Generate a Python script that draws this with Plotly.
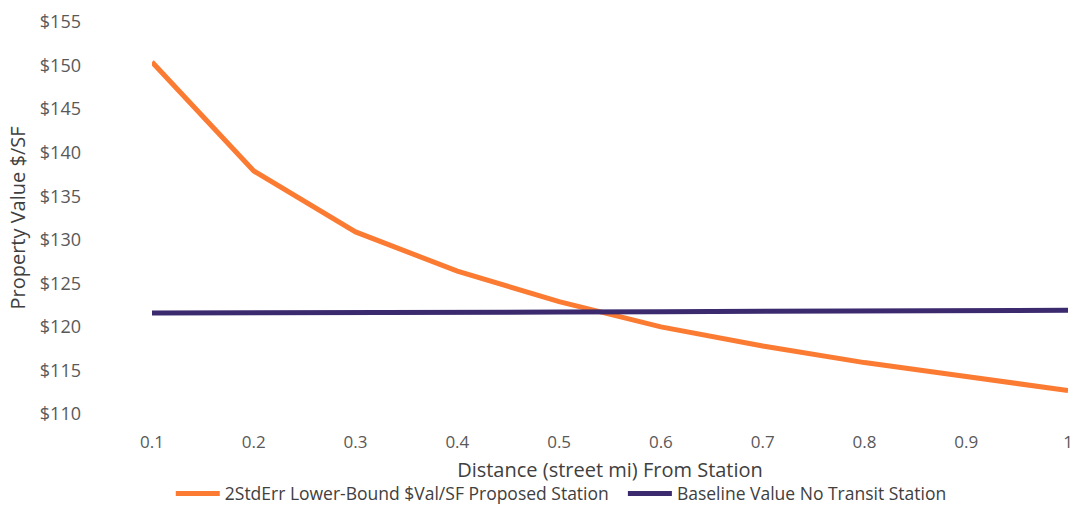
import plotly.graph_objects as go

distance = [0.1, 0.2, 0.3, 0.4, 0.5, 0.6, 0.7, 0.8, 0.9, 1.0]
tick_labels = ["0.1", "0.2", "0.3", "0.4", "0.5", "0.6", "0.7", "0.8", "0.9", "1"]
lower_bound = [150.4, 137.9, 130.9, 126.4, 122.9, 120.0, 117.8, 115.9, 114.3, 112.7]
baseline = [121.6, 121.6, 121.6, 121.65, 121.7, 121.75, 121.8, 121.85, 121.9, 121.9]
y_ticks = [110, 115, 120, 125, 130, 135, 140, 145, 150, 155]
y_tick_labels = ["$110", "$115", "$120", "$125", "$130", "$135", "$140", "$145", "$150", "$155"]
series_names = ["2StdErr Lower-Bound $Val/SF Proposed Station", "Baseline Value No Transit Station"]

fig = go.Figure()
fig.add_trace(go.Scatter(
    x=distance, y=lower_bound, mode="lines",
    name=series_names[0] + "\u00a0\u00a0",
    line=dict(color="#FB7B33", width=5),
))
fig.add_trace(go.Scatter(
    x=distance, y=baseline, mode="lines",
    name=series_names[1],
    line=dict(color="#3C2A6E", width=5),
))

font_family = "'Open Sans', sans-serif"
fig.update_layout(
    width=1073, height=506,
    margin=dict(l=152, r=5, t=22, b=92, autoexpand=False),
    paper_bgcolor="white", plot_bgcolor="white",
    font=dict(family=font_family, color="#595959", size=17),
    showlegend=True,
    legend=dict(orientation="h", x=0.0205, xanchor="left", y=-0.203, yanchor="middle",
                font=dict(size=17.5, color="#404040"), itemwidth=44, tracegroupgap=0),
    xaxis=dict(
        range=[0.1, 1.0], tickvals=distance, ticktext=tick_labels,
        showgrid=False, zeroline=False, showline=False, ticks="",
        ticklabelstandoff=16, automargin=False,
        tickfont=dict(size=17, color="#595959"),
        title=dict(text="Distance (street mi) From Station", standoff=10,
                   font=dict(size=20, color="#404040")),
    ),
    yaxis=dict(
        range=[110, 155], tickvals=y_ticks, ticktext=y_tick_labels,
        showgrid=False, zeroline=False, showline=False, ticks="",
        ticklabelstandoff=70, automargin=False,
        tickfont=dict(size=18, color="#595959"),
        title=dict(text="Property Value $/SF", standoff=8,
                   font=dict(size=20, color="#404040")),
    ),
)

fig.write_html("out.html")
